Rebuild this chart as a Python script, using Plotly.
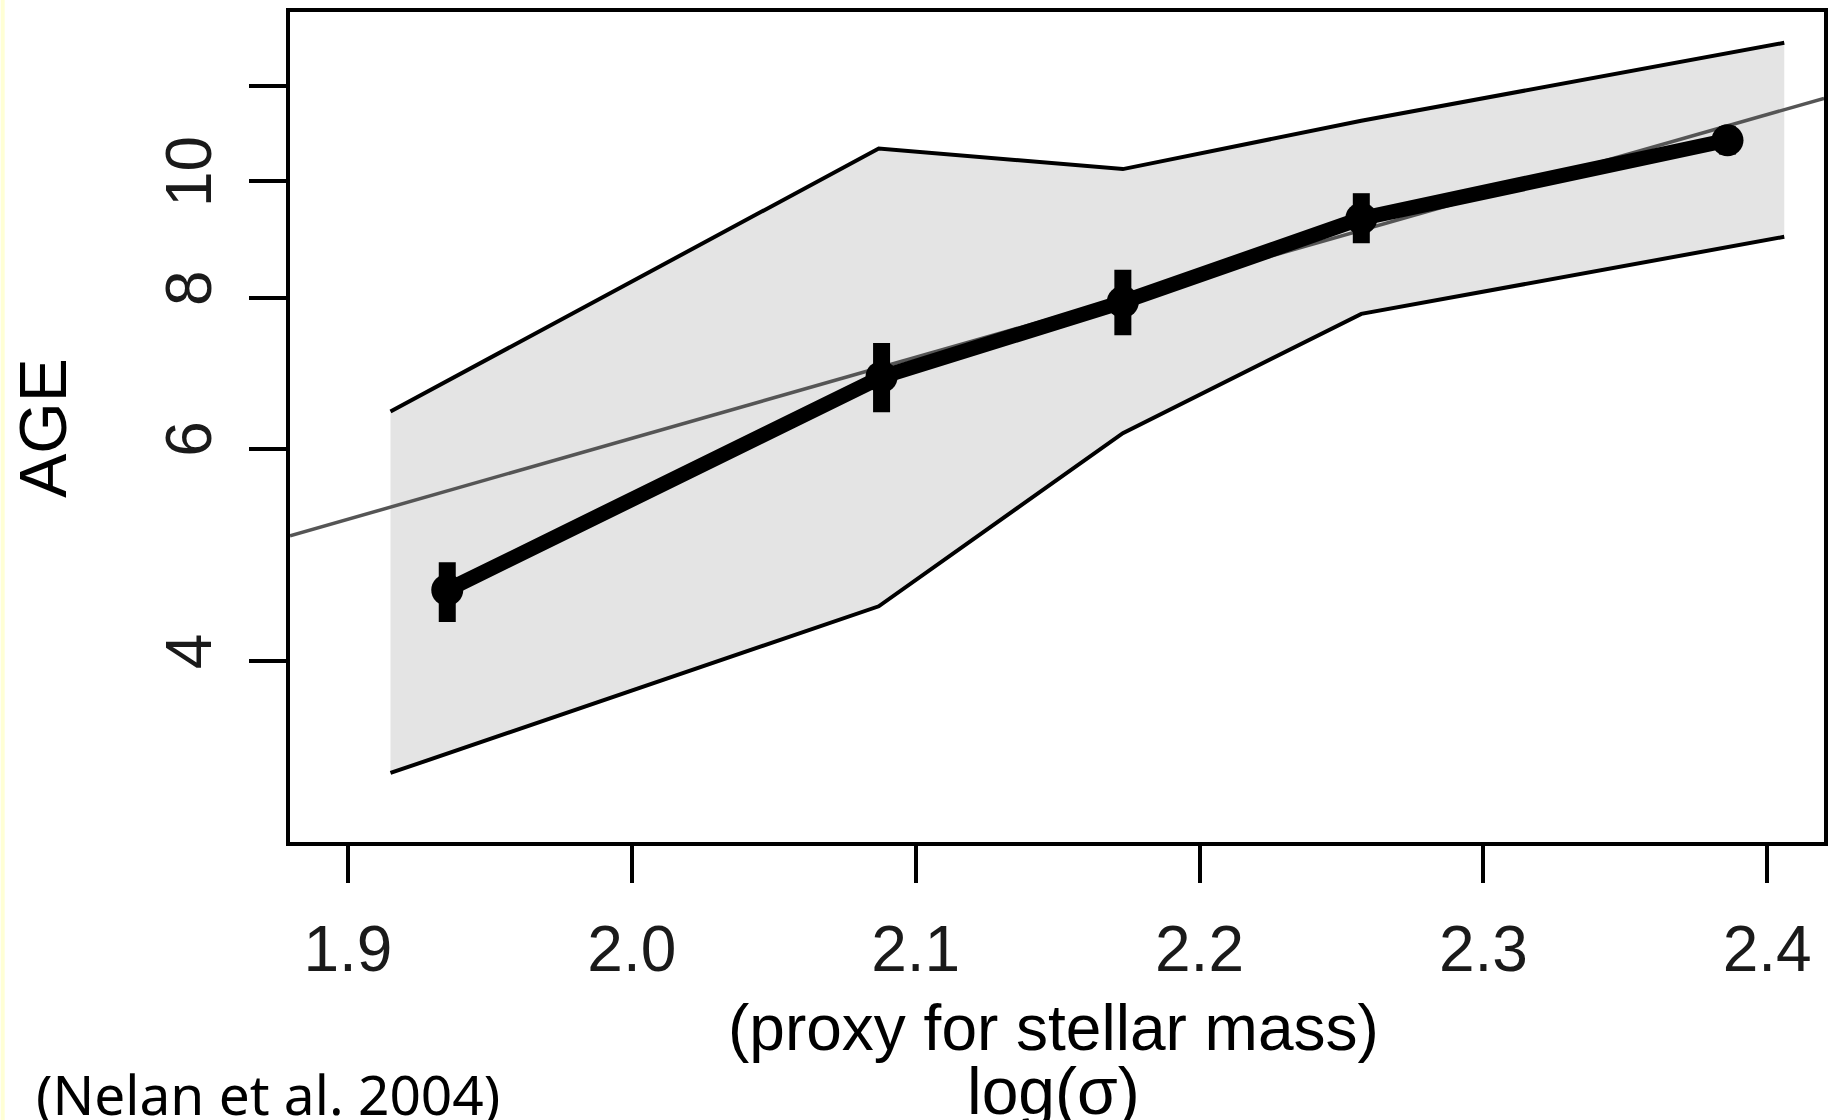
import plotly.graph_objects as go

# ---- data ----
band_x = [1.915, 2.087, 2.173, 2.257, 2.406]
band_upper = [6.44, 10.64, 10.23, 11.22, 13.02]
band_lower = [3.23, 4.44, 6.18, 7.76, 8.99]

pt_x = [1.935, 2.088, 2.173, 2.257, 2.386]
pt_y = [4.58, 6.88, 7.94, 9.31, 10.81]
err_hi = [4.83, 7.34, 8.44, 9.77, 11.10]
err_lo = [4.31, 6.43, 7.45, 8.88, 10.52]

fit_x = [1.8796, 2.4200]
fit_y = [5.08, 11.71]

x_ticks = [1.9, 2.0, 2.1, 2.2, 2.3, 2.4]
x_ticklabels = ["1.9", "2.0", "2.1", "2.2", "2.3", "2.4"]
y_ticks = [4, 6, 8, 10, 12]
y_ticklabels = ["4", "6", "8", "10", ""]

FONT = "Liberation Sans, Arial, Helvetica, sans-serif"

fig = go.Figure()

# shaded band
fig.add_trace(go.Scatter(
    x=band_x + band_x[::-1],
    y=band_upper + band_lower[::-1],
    fill="toself", fillcolor="#e4e4e4",
    line=dict(width=0), mode="lines", hoverinfo="skip"))
fig.add_trace(go.Scatter(x=band_x, y=band_upper, mode="lines",
                         line=dict(color="black", width=4)))
fig.add_trace(go.Scatter(x=band_x, y=band_lower, mode="lines",
                         line=dict(color="black", width=4)))

# fit line
fig.add_trace(go.Scatter(x=fit_x, y=fit_y, mode="lines",
                         line=dict(color="#555555", width=3.5)))

# mean relation with error bars
fig.add_trace(go.Scatter(
    x=pt_x, y=pt_y, mode="lines+markers",
    line=dict(color="black", width=15),
    marker=dict(color="black", size=32),
    error_y=dict(type="data", symmetric=False,
                 array=[h - y for h, y in zip(err_hi, pt_y)],
                 arrayminus=[y - l for l, y in zip(err_lo, pt_y)],
                 thickness=17, width=0, color="black")))

axis_common = dict(showline=True, linecolor="black", linewidth=4, mirror=True,
                   ticks="outside", ticklen=37, tickwidth=4, tickcolor="black",
                   showgrid=False, zeroline=False,
                   tickfont=dict(family=FONT, size=64, color="#1a1a1a"))

fig.update_layout(
    width=1835, height=1120,
    margin=dict(l=290, r=7, t=12, b=278, pad=0),
    paper_bgcolor="white", plot_bgcolor="white",
    showlegend=False,
    xaxis=dict(range=[1.8796, 2.4200], tickvals=x_ticks, ticktext=x_ticklabels,
               ticklabelstandoff=11, **axis_common),
    yaxis=dict(type="log", range=[0.45198, 1.14013], tickvals=y_ticks,
               ticktext=y_ticklabels, tickangle=-90, ticklabelstandoff=12,
               **axis_common),
    shapes=[dict(type="rect", xref="paper", yref="paper",
                 x0=-0.1886, x1=-0.1860, y0=-0.3373, y1=1.0145,
                 fillcolor="#FFFFD5", line=dict(width=0), layer="below")],
    annotations=[
        dict(text="AGE", xref="paper", yref="paper", x=-0.1612, y=0.4988,
             textangle=-90, showarrow=False, xanchor="center", yanchor="middle",
             font=dict(family=FONT, size=66, color="black")),
        dict(text="(proxy for stellar mass)", xref="paper", yref="paper",
             x=0.4974, y=-0.2245, showarrow=False, xanchor="center", yanchor="middle",
             font=dict(family=FONT, size=64, color="black")),
        dict(text="log(σ)", xref="paper", yref="paper",
             x=0.4974, y=-0.3000, showarrow=False, xanchor="center", yanchor="middle",
             font=dict(family=FONT, size=66, color="black")),
        dict(text="(Nelan et al. 2004)", xref="paper", yref="paper",
             x=-0.1671, y=-0.3036, showarrow=False, xanchor="left", yanchor="middle",
             font=dict(family="Comic Sans MS, Noto Sans, sans-serif", size=55, color="black")),
    ],
)

fig.write_html("out.html")
